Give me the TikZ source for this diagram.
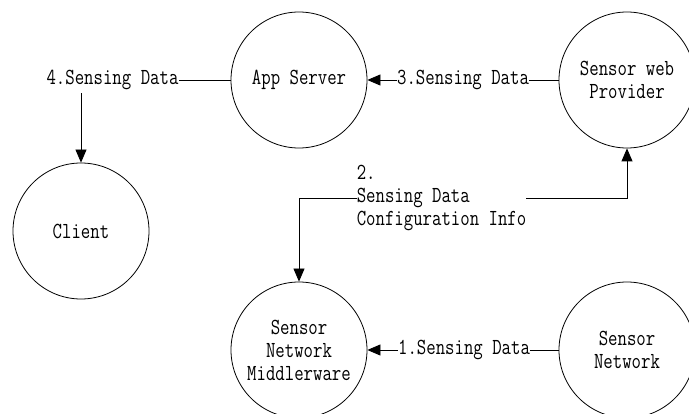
\documentclass[tikz,border=0pt]{standalone}
\usepackage{fontspec}
\usetikzlibrary{arrows.meta}
\newfontfamily\diagfont[FakeStretch=0.795]{Latin Modern Mono}
\begin{document}
\begin{tikzpicture}[x=1pt,y=1pt,
  font=\diagfont\fontsize{23}{23}\selectfont,
  proc/.style={draw, circle, line width=0.8pt, minimum size=136pt, inner sep=0pt, align=center},
  flowlabel/.style={inner sep=0pt, align=left},
  link/.style={line width=0.8pt},
  flow/.style={link, -{Triangle[length=13pt,width=11pt]}}]
\useasboundingbox (0,0) rectangle (689,-414);

% processes
\node[proc] (app)    at (299,-80)  {App Server};
\node[proc] (prov)   at (627,-80)  {Sensor web\\Provider};
\node[proc] (client) at (81,-231)  {Client};
\node[proc] (mw)     at (299,-350) {Sensor\\Network\\Middlerware};
\node[proc] (sn)     at (627,-350) {Sensor\\Network};

% flow labels
\node[flowlabel] (l4) at (112.5,-80)  {4.Sensing Data};
\node[flowlabel] (l3) at (463,-80)    {3.Sensing Data};
\node[flowlabel] (l1) at (464,-350)   {1.Sensing Data};
\node[flowlabel] (l2) at (441.5,-198) {2.\\Sensing Data\\Configuration Info};

% 1. sensor network -> middleware
\draw[link] (sn) -- (l1);
\draw[flow] (l1) -- (mw);

% 2. middleware <-> sensor web provider
\draw[flow] (l2.west) -| (mw.north);
\draw[flow] (l2.east) -| (prov.south);

% 3. provider -> app server
\draw[link] (prov) -- (l3);
\draw[flow] (l3) -- (app);

% 4. app server -> client
\draw[link] (app) -- (l4);
\draw[flow] (client |- l4.south) ++(0,-3) -- (client);
\end{tikzpicture}
\end{document}
